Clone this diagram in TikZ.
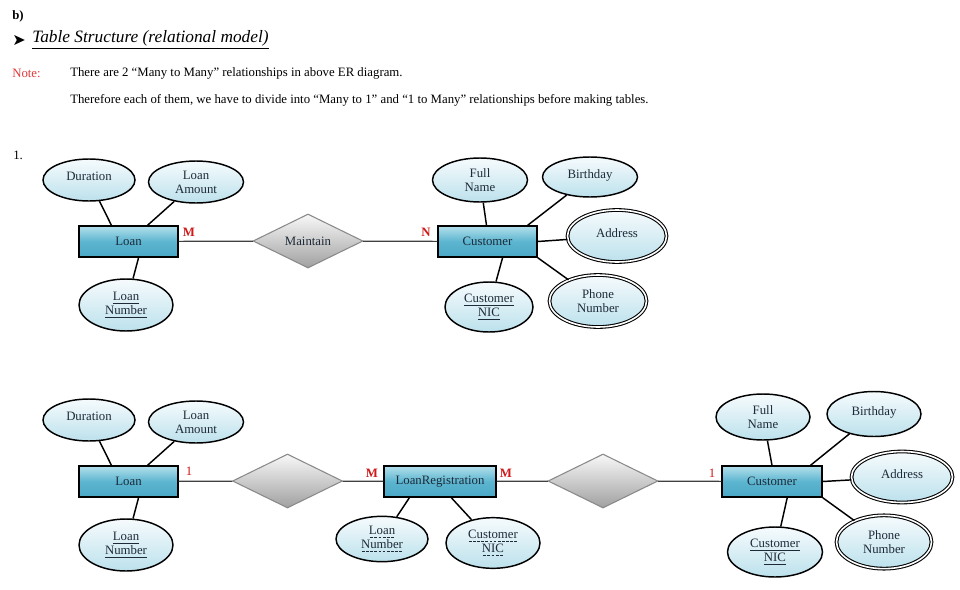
\documentclass[tikz,border=0pt]{standalone}
\usepackage{fontspec}
\setmainfont{Liberation Serif}
\newfontfamily\symfont{DejaVu Sans}
\usetikzlibrary{shapes.geometric,calc}

\definecolor{txt}{HTML}{1E2A38}
\definecolor{ellTop}{HTML}{F6FBFD}
\definecolor{ellBot}{HTML}{BCE1EC}
\definecolor{boxTop}{HTML}{B3E0EC}
\definecolor{boxMid}{HTML}{5CB5D0}
\definecolor{boxBot}{HTML}{4BA8C6}
\definecolor{diaTop}{HTML}{F8F8F8}
\definecolor{diaBot}{HTML}{A0A0A0}
\definecolor{diaLine}{HTML}{8A8A8A}
\definecolor{cardRed}{HTML}{D01818}
\definecolor{noteRed}{HTML}{E03A3A}

\newcommand\dashul[1]{\setbox0=\hbox{#1}\leavevmode\rlap{\copy0}\hbox to \wd0{\xleaders\hbox to 3pt{\hss\rule[-2.2pt]{2pt}{0.45pt}\hss}\hfill}}
\newcommand\solidul[1]{\underline{#1}}

\begin{document}
\begin{tikzpicture}[x=0.75pt,y=-0.75pt,
  attr/.style={ellipse, draw=black, line width=1.1pt, top color=ellTop, bottom color=ellBot,
    inner sep=0pt, align=center, font=\fontsize{9.6}{10.5}\selectfont, text=txt},
  single/.style={text depth=5pt},
  multi/.style={attr, double, double distance=1.2pt, line width=0.8pt},
  ent/.style={rectangle, draw=black, line width=1.1pt, top color=boxTop, bottom color=boxBot,
    middle color=boxMid, minimum height=23.25pt, inner sep=0pt,
    font=\fontsize{9.6}{10.5}\selectfont, text=txt},
  rel/.style={diamond, draw=diaLine, line width=0.8pt, top color=diaTop, bottom color=diaBot,
    minimum width=82.5pt, minimum height=40.5pt, inner sep=0pt, aspect=2,
    font=\fontsize{9.6}{10.5}\selectfont, text=txt},
  link/.style={line width=1.1pt, draw=black},
  rlink/.style={line width=0.9pt, draw=black!75},
  card/.style={text=cardRed, inner sep=0pt, font=\bfseries\fontsize{9.6}{10.5}\selectfont},
  cardl/.style={text=cardRed, inner sep=0pt, font=\fontsize{9.6}{10.5}\selectfont},
  hdr/.style={anchor=west, inner sep=0pt, font=\fontsize{9.6}{11}\selectfont},
]
\fill[white] (0,0) rectangle (960,589);
\useasboundingbox (0,0) rectangle (960,589);

% ---------- header ----------
\node[hdr, font=\bfseries\fontsize{9.6}{11}\selectfont] (bmark) at (12,16) {b)};
\node[hdr, font=\symfont\fontsize{12}{13}\selectfont] (arrowmark) at (12,40) {➤};
\node[hdr, font=\itshape\fontsize{13}{15}\selectfont] (title) at (32,40) {\underline{Table Structure (relational model)}};
\node[hdr, text=noteRed] (note) at (12,73) {Note:};
\node[hdr] (line1) at (70,73) {There are 2 “Many to Many” relationships in above ER diagram.};
\node[hdr] (line2) at (70,100) {Therefore each of them, we have to divide into “Many to 1” and “1 to Many” relationships before making tables.};
\node[hdr] (one) at (13,155) {1.};

% ---------- top diagram ----------
\node[ent, minimum width=74.25pt] (loan) at (128.5,241.5) {Loan};
\node[ent, minimum width=74.25pt] (cust) at (487.5,241.5) {Customer};
\node[rel] (maint) at (308,241) {Maintain};

\node[attr, single, minimum width=69pt, minimum height=31.5pt] (dur) at (89,180) {Duration};
\node[attr, minimum width=71.25pt, minimum height=31.5pt] (lamt) at (196,182) {Loan\\Amount};
\node[attr, minimum width=70.5pt, minimum height=39pt] (lnum) at (126,305) {\solidul{Loan}\\\solidul{Number}};
\node[attr, minimum width=71.25pt, minimum height=33pt] (fname) at (480,180) {Full\\Name};
\node[attr, single, minimum width=71.25pt, minimum height=30pt] (bday) at (590,177) {Birthday};
\node[multi, single, minimum width=74.25pt, minimum height=39pt] (addr) at (617,236) {Address};
\node[multi, minimum width=72.75pt, minimum height=39pt] (phone) at (598,301) {Phone\\Number};
\node[attr, minimum width=66pt, minimum height=37.5pt] (cnic) at (489,307) {\solidul{Customer}\\\solidul{NIC}};

\draw[link] (dur) -- ($(loan.north west)!0.33!(loan.north east)$);
\draw[link] (lamt) -- ($(loan.north west)!0.69!(loan.north east)$);
\draw[link] (lnum) -- ($(loan.south west)!0.60!(loan.south east)$);
\draw[link] (fname) -- ($(cust.north west)!0.49!(cust.north east)$);
\draw[link] (bday) -- ($(cust.north west)!0.90!(cust.north east)$);
\draw[link] (addr) -- (cust.east);
\draw[link] (phone) -- (cust.south east);
\draw[link] (cnic) -- ($(cust.south west)!0.65!(cust.south east)$);

\draw[rlink] (loan) -- (maint);
\draw[rlink] (maint) -- (cust);
\node[card] (cM) at (189,232) {M};
\node[card] (cN) at (426,232) {N};

% ---------- bottom diagram ----------
\node[ent, minimum width=74.25pt] (loanb) at (128.5,481.5) {Loan};
\node[ent, minimum width=84pt] (lreg) at (440,481.5) {LoanRegistration};
\node[ent, minimum width=75pt] (custb) at (772,481.5) {Customer};
\node[rel] (rela) at (287.5,481) {};
\node[rel] (relb) at (603,481) {};

\node[attr, single, minimum width=69pt, minimum height=31.5pt] (durb) at (89,420) {Duration};
\node[attr, minimum width=71.25pt, minimum height=31.5pt] (lamtb) at (196,422) {Loan\\Amount};
\node[attr, minimum width=70.5pt, minimum height=39pt] (lnumb) at (126,545) {\solidul{Loan}\\\solidul{Number}};

\node[attr, minimum width=69pt, minimum height=34pt] (lnumc) at (382,539) {\dashul{Loan}\\\dashul{Number}};
\node[attr, minimum width=70.5pt, minimum height=38pt] (cnicc) at (493,543) {\dashul{Customer}\\\dashul{NIC}};

\node[attr, minimum width=70.5pt, minimum height=34.5pt] (fnameb) at (763,417) {Full\\Name};
\node[attr, single, minimum width=70.5pt, minimum height=33.75pt] (bdayb) at (874,414) {Birthday};
\node[multi, single, minimum width=75.75pt, minimum height=38.25pt] (addrb) at (902,477) {Address};
\node[multi, minimum width=71.25pt, minimum height=40pt] (phoneb) at (884,542) {Phone\\Number};
\node[attr, minimum width=71.25pt, minimum height=37.5pt] (cnicb) at (775,552) {\solidul{Customer}\\\solidul{NIC}};

\draw[link] (durb) -- ($(loanb.north west)!0.33!(loanb.north east)$);
\draw[link] (lamtb) -- ($(loanb.north west)!0.69!(loanb.north east)$);
\draw[link] (lnumb) -- ($(loanb.south west)!0.60!(loanb.south east)$);
\draw[link] (lnumc) -- ($(lreg.south west)!0.23!(lreg.south east)$);
\draw[link] (cnicc) -- ($(lreg.south west)!0.60!(lreg.south east)$);
\draw[link] (fnameb) -- ($(custb.north west)!0.50!(custb.north east)$);
\draw[link] (bdayb) -- ($(custb.north west)!0.88!(custb.north east)$);
\draw[link] (addrb) -- (custb.east);
\draw[link] (phoneb) -- (custb.south east);
\draw[link] (cnicb) -- ($(custb.south west)!0.65!(custb.south east)$);

\draw[rlink] (loanb) -- (rela);
\draw[rlink] (rela) -- (lreg);
\draw[rlink] (lreg) -- (relb);
\draw[rlink] (relb) -- (custb);
\node[cardl] (c1a) at (189,471) {1};
\node[card] (cMa) at (372,473) {M};
\node[card] (cMb) at (506,473) {M};
\node[cardl] (c1b) at (712,473) {1};
\end{tikzpicture}
\end{document}
